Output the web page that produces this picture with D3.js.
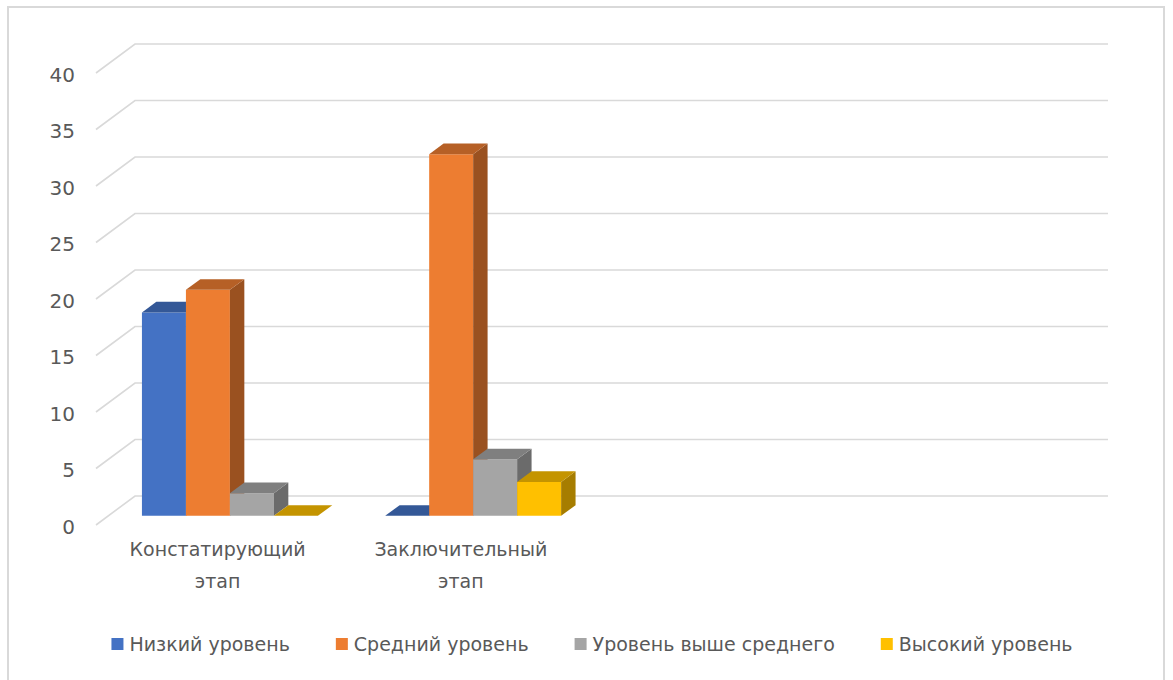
<!DOCTYPE html>
<html>
<head>
<meta charset="utf-8">
<script src="https://cdn.jsdelivr.net/npm/d3@7"></script>
<style>
  html, body { margin: 0; padding: 0; background: #ffffff; }
  svg { display: block; }
  text { font-family: "DejaVu Sans", sans-serif; fill: #595959; }
</style>
</head>
<body>
<svg id="chart" width="1173" height="680"></svg>
<script>
// Category slots on the floor (the last two are empty)
const categories = ["Констатирующий этап", "Заключительный этап", "", ""];
const seriesNames = ["Низкий уровень", "Средний уровень", "Уровень выше среднего", "Высокий уровень"];
const lowLevel = [18, 0];
const middleLevel = [20, 32];
const aboveMiddleLevel = [2, 5];
const highLevel = [0, 3];
const seriesValues = [lowLevel, middleLevel, aboveMiddleLevel, highLevel];
const seriesColors = ["#4472C4", "#ED7D31", "#A5A5A5", "#FFC000"];
const yTickValues = [0, 5, 10, 15, 20, 25, 30, 35, 40];

const svg = d3.select("#chart");

// Outer chart frame
svg.append("rect")
  .attr("x", 8).attr("y", 7)
  .attr("width", 1156).attr("height", 700)
  .attr("fill", "#ffffff")
  .attr("stroke", "#d9d9d9").attr("stroke-width", 2);

// Oblique projection: the back wall is shifted right/up relative to the front plane
const DX = 39, DY = 29;
const BAR_Z0 = 0.315, BAR_Z1 = 0.685;
const frontLeft = 96, frontRight = 1069;

const x = d3.scaleBand()
  .domain(d3.range(categories.length))
  .range([frontLeft, frontRight])
  .paddingInner(0).paddingOuter(0);

const xInner = d3.scaleBand()
  .domain(d3.range(seriesNames.length))
  .range([0, x.bandwidth()])
  .paddingInner(0)
  .paddingOuter(0.765);

const y = d3.scaleLinear().domain([0, 40]).range([525, 73]);

const P = (px, py, z) => [px + z * DX, py - z * DY];

// Gridlines: diagonal on the side wall + horizontal on the back wall
const grid = svg.append("g").attr("stroke", "#d9d9d9").attr("stroke-width", 1.6).attr("fill", "none");
yTickValues.forEach(v => {
  const a = P(frontLeft, y(v), 0);
  const b = P(frontLeft, y(v), 1);
  const c = P(frontRight, y(v), 1);
  grid.append("path").attr("d", d3.line()([a, b, c]));
});

// Value axis labels
const yAxis = d3.axisLeft(y).tickValues(yTickValues).tickSize(0).tickPadding(21);
const yAxisG = svg.append("g").attr("transform", `translate(${frontLeft},0)`).call(yAxis);
yAxisG.select(".domain").remove();
yAxisG.selectAll("text")
  .attr("dy", "0.4em")
  .style("font-family", "'DejaVu Sans', sans-serif")
  .style("font-size", "20px")
  .attr("fill", "#595959");

// 3D columns
const shade = (c, k) => {
  const col = d3.rgb(c);
  return d3.rgb(col.r * k, col.g * k, col.b * k).formatHex();
};
const poly = pts => "M" + pts.map(p => p.join(",")).join("L") + "Z";
const bars = svg.append("g");
categories.forEach((cat, ci) => {
  seriesValues.forEach((vals, si) => {
    const v = vals[ci];
    if (v === undefined) return;
    const x0 = x(ci) + xInner(si);
    const x1 = x0 + xInner.bandwidth();
    const yt = y(v), yb = y(0);
    const g = bars.append("g");
    // front face
    g.append("path").attr("d", poly([P(x0, yt, BAR_Z0), P(x1, yt, BAR_Z0), P(x1, yb, BAR_Z0), P(x0, yb, BAR_Z0)]))
      .attr("fill", seriesColors[si]);
    // right side face
    g.append("path").attr("d", poly([P(x1, yt, BAR_Z0), P(x1, yt, BAR_Z1), P(x1, yb, BAR_Z1), P(x1, yb, BAR_Z0)]))
      .attr("fill", shade(seriesColors[si], 0.65));
    // top face
    g.append("path").attr("d", poly([P(x0, yt, BAR_Z0), P(x1, yt, BAR_Z0), P(x1, yt, BAR_Z1), P(x0, yt, BAR_Z1)]))
      .attr("fill", shade(seriesColors[si], 0.77));
  });
});

// Category labels, wrapped onto two lines
const catLabels = svg.append("g");
categories.forEach((cat, ci) => {
  if (!cat) return;
  const t = catLabels.append("text")
    .attr("text-anchor", "middle")
    .style("font-size", "19px");
  cat.split(" ").forEach((word, wi) => {
    t.append("tspan")
      .attr("x", x(ci) + x.bandwidth() / 2)
      .attr("y", 556 + wi * 32)
      .text(word);
  });
});

// Legend, centred under the chart
const legend = svg.append("g");
const items = seriesNames.map((name, i) => {
  const g = legend.append("g");
  g.append("rect").attr("x", 0).attr("y", -12.5).attr("width", 12).attr("height", 12).attr("fill", seriesColors[i]);
  const t = g.append("text").attr("x", 18).attr("y", 0).style("font-size", "19px").text(name);
  return { g, w: 18 + t.node().getComputedTextLength() };
});
const gap = 46;
const total = d3.sum(items, d => d.w) + gap * (items.length - 1);
let cx = 592 - total / 2;
items.forEach(it => {
  it.g.attr("transform", `translate(${cx},650.5)`);
  cx += it.w + gap;
});
</script>
</body>
</html>
